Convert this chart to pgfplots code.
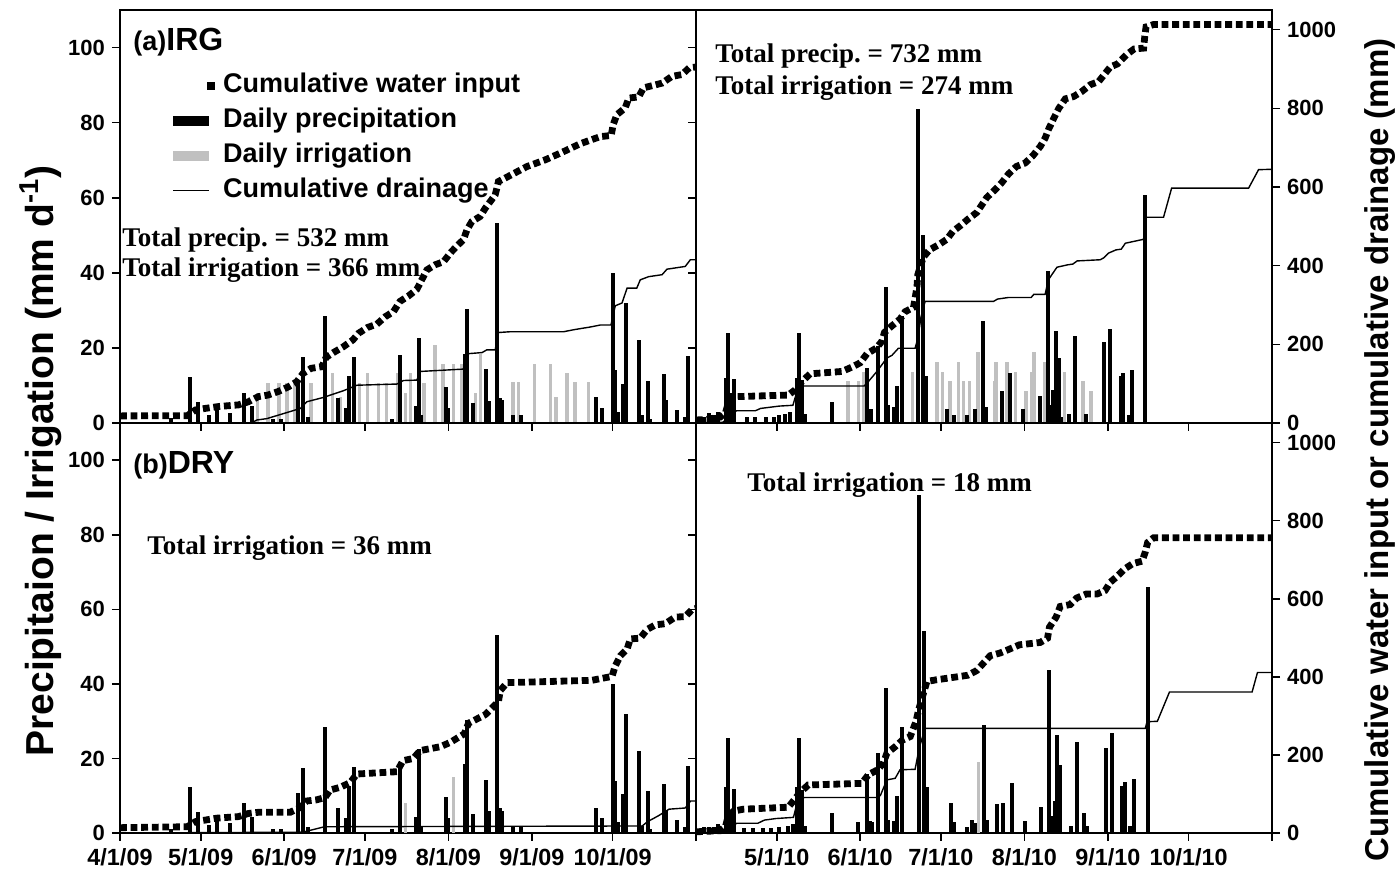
\documentclass[border=0pt]{standalone}
\usepackage{fontspec}
\setmainfont{Liberation Sans}
\newfontfamily\tnr{Liberation Serif}
\usepackage{pgfplots}
\usepackage{pgfplotstable}
\pgfplotsset{compat=1.18}
\definecolor{irr}{RGB}{192,192,192}
\frenchspacing

% ---------- 2009 daily precipitation (both 2009 panels) ----------
\pgfplotstableread{
x y
110 1.2
117 12.3
120 5.7
124 2.1
127 4.8
132 2.6
137 8.1
140 4.4
148 1.0
151 1.0
157 10.6
159 17.5
161 1.7
167 28.4
172 6.6
175 4.0
176 12.5
178 17.7
192 1.0
195 18.1
201 4.4
202 22.6
203 2.0
212 9.7
213 4.0
219 18.4
220 30.3
222 5.2
227 14.3
228 5.9
231 53.2
232 6.6
233 6.0
237 2.0
240 2.0
268 6.8
270 4.0
274 39.9
275 14.0
276 3.0
278 10.4
279 31.9
284 22.1
285 2.0
287 11.2
288 1.0
293 13.1
294 6.2
298 3.5
301 1.5
302 17.9
}\Pnine
% ---------- 2009 irrigation, IRG ----------
\pgfplotstableread{
x y
142 8.1
146 10.6
150 10.6
153 10.6
156 10.6
162 10.6
170 13.2
173 7.0
180 10.6
183 13.2
187 10.6
190 10.6
194 13.2
197 8.1
199 13.2
204 10.6
208 20.8
211 15.7
215 15.7
218 15.7
223 8.1
225 18.4
237 10.8
239 10.8
245 15.7
251 15.7
253 7.0
257 13.2
260 10.8
265 10.8
}\Inineirg
% ---------- 2009 irrigation, DRY ----------
\pgfplotstableread{
x y
195 13
197 8
215 15
}\Ininedry
% ---------- 2009 cumulative water input, IRG ----------
\pgfplotstableread{
x y
91 18
116 18.5
119 33
122.6 37
127.8 42
135 46
138.7 54
142.4 67
146 71
149.8 80
153.6 92
156.7 105
159 126
162 139
166 143
167.6 167
170.3 179
174 194
177.5 211
179.6 228
183 243
186.4 251
189.5 270
192.6 283
195 309
198.2 323
201.3 340
205 389
208 402
211.2 410
213.7 432
216 449
218.6 466
219.9 491
221.7 512
224.8 525
226.7 546
230.4 580
231.6 614
235.3 627
242.2 652
249 669
255.2 688
262 710
269.4 728
273.5 731
274.2 758
275.6 784
278.7 801
280 826
283.7 829
285.5 852
292.4 864
296 881
299.8 886
302.5 903
305 905
}\Wnineirg
% ---------- 2009 cumulative drainage, IRG ----------
\pgfplotstableread{
x y
91 0
140 0
141.8 7.6
145.5 11
154.2 29
158 37
160.4 54
166.6 65
174 82
179 96
193.9 99
196.3 108
201.3 109
202.5 131
218.6 137
219.9 176
225.5 179
227.3 186
230.4 186
231.6 230
236 232
255.8 232
259.5 237
265.7 244
269.4 249
273.4 249
275 298
277.5 305
279.4 343
283 343
284.3 364
287.4 372
292.4 377
294.2 391
301 398
302.9 415
305 415
}\Dnineirg
% ---------- 2009 cumulative water input, DRY ----------
\pgfplotstableread{
x y
91 13.6
116 16
119 29
122.6 33
127 38
135 42
138.7 50
142.4 53
154.2 53
157.3 63
160.4 82
164.1 85
167.2 91
169 110
172.8 117
176.5 129
179 151
193.9 157
196.1 185
200 191
202.5 211
210 221
213.7 232
218.9 254
220.5 281
226.7 303
229.5 322
231.6 337
232.3 365
234.8 385
266.3 391
273.8 401
275 428
276.9 454
279.4 471
280.6 497
284.3 499
286.8 521
289.9 533
293.6 536
297.3 553
301 554
303.5 572
305 575
}\Wninedry
% ---------- 2009 cumulative drainage, DRY ----------
\pgfplotstableread{
x y
91 0
158 2
160 4
167 16
285 18
287 29
291 44
295 61
301 64
303 82
305 82
}\Dninedry
% ---------- 2010 daily precipitation, IRG ----------
\pgfplotstableread{
x y
94 1.5
96 2.6
97.5 2.0
99 3.0
102 11.9
103 24.1
104.2 7.9
105.2 11.6
110 1.5
113 1.5
117 1.5
120 1.5
122 2.0
124 2.5
126 2.8
128.4 11.9
129.3 24.1
130.3 11.5
131.5 2.5
141.4 5.7
154.5 14.6
156 3.6
158.5 20.4
161.5 36.2
162.5 4.8
164.6 4.2
165.6 9.9
167.5 28.4
173.4 83.5
175.3 50.1
176.4 12.4
184.2 3.6
186.7 2.0
191.7 2.0
194.5 3.6
197.5 27.2
198.8 4.3
204.6 8.4
207.7 13.2
212.5 3.6
218.7 7.2
221.7 40.6
222.7 4.8
223.6 8.8
224.7 24.6
225.7 17.2
226.5 1.5
229.6 2.5
231.9 23.2
236 2.5
242.7 21.7
244.8 25.0
248.9 12.4
249.8 13.4
251.8 2.0
252.9 14.1
257.9 60.8
}\Ptenirg
% ---------- 2010 irrigation, IRG ----------
\pgfplotstableread{
x y
147.4 11.2
151.3 11.2
153.2 13.5
171.4 13.7
180.5 16.2
182.6 13.6
185.4 11.2
188.5 16.2
190.4 11.2
192.5 11.2
195.7 18.8
201.8 11.2
202.5 16.2
206.5 16.2
209.6 13.6
213.6 8.6
215.8 13.6
216.6 18.8
220.7 16.2
227.8 13.6
234.8 11.2
237.8 8.6
}\Itenirg
% ---------- 2010 cumulative water input, IRG ----------
\pgfplotstableread{
x y
91 7.6
95 9
100 15
102 27
103 51
105 63
106 67
125.3 71
127.8 84
130.3 105
133.4 125
145.2 131
148.9 142
152 153
154.5 176
157.9 190
160 207
161 230
163.8 247
166.8 264
168.7 283
171.8 294
172.4 317
173.1 347
173.4 377
174.9 410
175.5 422
177.7 440
181.1 453
184.2 467
186.4 487
189.1 501
192.2 519
195.3 535
199 573
202.1 593
204.6 611
207.1 633
210 652
213.3 661
216.2 680
218.9 703
220.7 724
222 747
223.8 773
225.7 799
228.2 824
231.3 830
234.4 843
237.5 860
240.6 868
244.9 905
247.6 913
250.9 936
253.8 951
257.3 953
257.7 981
258.2 1007
261 1013
305 1013
}\Wtenirg
% ---------- 2010 cumulative drainage, IRG ----------
\pgfplotstableread{
x y
91 0
101 2
104 20
106 31
113 31
115 37
122 43
127 45
128.5 80
129.5 94
153.5 94
155 105
158.2 131
161.9 165
163.8 172
166.2 190
172.4 190
173.4 215
174.6 270
176.1 309
201.5 309
203 315
207 319
215.5 319
216.5 327
220.7 327
221.9 364
225.1 396
229 402
231 404
232.6 412
241.2 415
242.5 420
244.3 432
247 440
249 442
250.5 457
257.3 467
257.8 523
264.7 523
267.7 597
296.3 597
300 644
305 645
}\Dtenirg
% ---------- 2010 daily precipitation, DRY ----------
\pgfplotstableread{
x y
94 1.5
96 1.7
97.5 1.7
99 2.3
102 12.4
103 25.6
104 6.0
105.2 11.7
109 1.4
112 1.4
116 1.4
119 1.4
122 1.6
125 2.0
127 2.3
128.4 12.4
129.3 25.6
130.3 11.5
131.6 2.0
141.4 5.4
151.3 3.0
154.5 15.8
155.5 3.2
156.5 3.0
158.5 21.5
161.6 38.9
162.5 3.6
164.6 3.2
165.8 9.9
167.7 28.4
173.9 90.8
175.8 54.1
176.7 12.4
185.8 8.1
186.7 3.0
191.7 1.5
193.5 3.5
194.5 2.7
198 28.9
199 3.6
203 7.9
204.9 8.1
208.4 13.5
213.4 3.2
219.1 6.9
222.3 43.8
223.2 4.6
224.2 8.6
225.3 26.2
226.3 18.2
230.3 2.0
232.5 24.4
235.3 5.4
236.3 2.0
243.3 22.8
245.5 26.7
249.3 12.6
250.5 13.7
252.3 1.8
253.6 14.6
258.8 66.0
}\Ptendry
% ---------- 2010 irrigation, DRY ----------
\pgfplotstableread{
x y
196 19
}\Itendry
% ---------- 2010 cumulative water input, DRY ----------
\pgfplotstableread{
x y
91 3
100 6
102 18
103 44
105 56
108.6 61
125.3 66
128.4 93
130.5 109
132.7 123
152.6 127
155 149
158.5 162
160.6 179
161.9 204
165 221
167.7 238
170.6 247
172.7 285
173.7 315
175.5 358
176.8 388
180 392
189.1 401
192 404
195.3 416
197.8 435
200.3 454
204 461
207.5 471
211.2 482
215.2 485
218.9 488
221.6 499
222.3 527
224.8 553
226.3 580
230 585
232.5 602
236 612
240 612
243 621
244.9 642
247.4 657
250.2 676
253.3 690
256.7 696
257.9 719
258.8 744
261 756
305 756
}\Wtendry
% ---------- 2010 cumulative drainage, DRY ----------
\pgfplotstableread{
x y
91 0
101 2
104 15
106.1 25
114 25
116.4 33
120.7 37
127.2 40
129 89
131.5 91
158.2 91
159.5 96
161.9 136
165 140
166.8 162
172.4 163
173.9 217
176.1 268
257.9 268
258.6 285
262.4 286
266.9 361
297.6 361
299.6 411
305 411
}\Dtendry

\pgfplotsset{
  /pgf/number format/assume math mode=true,
  /pgf/number format/1000 sep={},
  base/.style={scale only axis, width=288pt, xmin=91, xmax=305, anchor=south west,
    axis line style={line width=0.8pt}, tick style={black, line width=0.8pt},
    major tick length=4pt, tick align=outside,
    yticklabel style={font=\bfseries\fontsize{11}{13}\selectfont},
    xticklabel style={font=\bfseries\fontsize{11.7}{14}\selectfont}},
  bars/.style={base, ymin=0, ymax=110,
    xtick={91,121,152,182,213,244,274,305}, xtick pos=bottom,
    ytick={0,20,40,60,80,100}, ytick pos=left, xticklabels={}},
  cumL/.style={base, ymin=0, ymax=1050, hide axis, clip=false},
  cumR/.style={base, ymin=0, ymax=1050, axis x line=none, axis y line*=right,
    ytick={0,200,400,600,800,1000}, clip=false},
  pr/.style={ycomb, line width=2pt, black, mark=none},
  ir/.style={ycomb, line width=1.7pt, irr, mark=none},
  wi/.style={line width=3.4pt, dash pattern=on 3.4pt off 1.9pt, black, mark=none},
  dr/.style={line width=0.7pt, black, mark=none},
}

\begin{document}
\begin{tikzpicture}
\path[use as bounding box] (0pt,0pt) rectangle (698.5pt,440.5pt);

% ===== top left: 2009 IRG =====
\begin{axis}[bars, at={(60pt,229pt)}, height=206.5pt]
\addplot[ir] table {\Inineirg};
\addplot[pr] table {\Pnine};
\end{axis}
\begin{axis}[cumL, at={(60pt,229pt)}, height=206.5pt,
  legend style={at={(0.0903,0.847)}, anchor=north west, draw=none, fill=none,
    inner sep=0pt, row sep=5.5pt, column sep=4pt,
    font=\bfseries\fontsize{13.5}{15}\selectfont,
    nodes={inner sep=0pt, text height=9.5pt, text depth=2.5pt}},
  legend cell align=left]
\addlegendimage{legend image code/.code={\path[draw=none,fill=none] (0pt,0pt) rectangle (21pt,0pt); \fill[black,draw=none] (17pt,-2pt) rectangle (21pt,2pt);}}
\addlegendentry{Cumulative water input}
\addlegendimage{legend image code/.code={\path[draw=none,fill=none] (0pt,0pt) rectangle (21pt,0pt); \fill[black,draw=none] (0pt,-2.5pt) rectangle (18pt,2.5pt);}}
\addlegendentry{Daily precipitation}
\addlegendimage{legend image code/.code={\path[draw=none,fill=none] (0pt,0pt) rectangle (21pt,0pt); \fill[irr,draw=none] (0pt,-2.5pt) rectangle (18pt,2.5pt);}}
\addlegendentry{Daily irrigation}
\addlegendimage{legend image code/.code={\path[draw=none,fill=none] (0pt,0pt) rectangle (21pt,0pt); \draw[black, line width=0.7pt] (0pt,0pt) -- (18pt,0pt);}}
\addlegendentry{Cumulative drainage}
\addplot[wi, forget plot] table {\Wnineirg};
\addplot[dr, forget plot] table {\Dnineirg};
\end{axis}

% ===== top right: 2010 IRG =====
\begin{axis}[bars, at={(348pt,229pt)}, height=206.5pt, yticklabels={}]
\addplot[ir] table {\Itenirg};
\addplot[pr] table {\Ptenirg};
\end{axis}
\begin{axis}[cumR, at={(348pt,229pt)}, height=206.5pt]
\addplot[wi] table {\Wtenirg};
\addplot[dr] table {\Dtenirg};
\end{axis}

% ===== bottom left: 2009 DRY =====
\begin{axis}[bars, at={(60pt,24pt)}, height=205pt,
  xticklabels={4/1/09,5/1/09,6/1/09,7/1/09,8/1/09,9/1/09,10/1/09,}]
\addplot[ir] table {\Ininedry};
\addplot[pr] table {\Pnine};
\end{axis}
\begin{axis}[cumL, at={(60pt,24pt)}, height=205pt]
\addplot[wi] table {\Wninedry};
\addplot[dr] table {\Dninedry};
\end{axis}

% ===== bottom right: 2010 DRY =====
\begin{axis}[bars, at={(348pt,24pt)}, height=205pt, yticklabels={},
  xticklabels={,5/1/10,6/1/10,7/1/10,8/1/10,9/1/10,10/1/10,}]
\addplot[ir] table {\Itendry};
\addplot[pr] table {\Ptendry};
\end{axis}
\begin{axis}[cumR, at={(348pt,24pt)}, height=205pt]
\addplot[wi] table {\Wtendry};
\addplot[dr] table {\Dtendry};
\end{axis}

% ===== texts =====
\node[anchor=base west, inner sep=0pt, font=\bfseries] at (66.5pt,415pt)
  {{\fontsize{13.5}{16}\selectfont(a)}{\fontsize{16}{19}\selectfont IRG}};
\node[anchor=base west, inner sep=0pt, font=\bfseries] at (66.5pt,203.5pt)
  {{\fontsize{13.5}{16}\selectfont(b)}{\fontsize{16}{19}\selectfont DRY}};
\begin{scope}[every node/.style={anchor=base west, inner sep=0pt,
    font=\tnr\bfseries\fontsize{13.5}{16}\selectfont}]
\node at (61pt,317pt) {Total precip. = 532 mm};
\node at (61pt,302pt) {Total irrigation = 366 mm};
\node at (357.5pt,409pt) {Total precip. = 732 mm};
\node at (357.5pt,393pt) {Total irrigation = 274 mm};
\node at (73.5pt,163pt) {Total irrigation = 36 mm};
\node at (373.5pt,194.5pt) {Total irrigation = 18 mm};
\end{scope}
\node[rotate=90, inner sep=0pt, font=\bfseries\fontsize{19.5}{24}\selectfont] at (20.5pt,210pt)
  {Precipitaion / Irrigation (mm d\textsuperscript{-1})};
\node[rotate=90, inner sep=0pt, font=\bfseries\fontsize{16.5}{20}\selectfont] at (690pt,215.5pt)
  {Cumulative water input or cumulative drainage (mm)};
\end{tikzpicture}
\end{document}
